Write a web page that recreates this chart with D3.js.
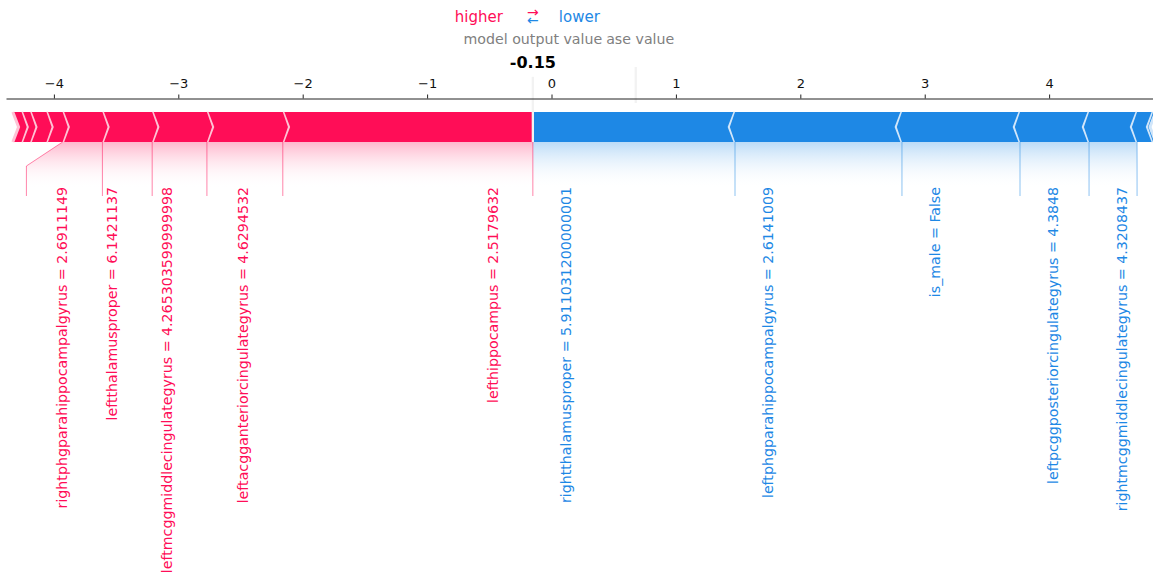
<!DOCTYPE html>
<html lang="en">
<head>
<meta charset="UTF-8">
<title>Force plot</title>
<script src="https://cdn.jsdelivr.net/npm/d3@7/dist/d3.min.js"></script>
<style>
  body { margin: 0; background: #fff; }
  svg { display: block; font-family: "DejaVu Sans", sans-serif; }
</style>
</head>
<body>
<div id="chart"></div>
<script>
// model output for this sample
const outValue = -0.15;

// features pushing the output higher (red), largest first
const posShap = [2.01, 0.61, 0.44, 0.40, 0.32, 0.13, 0.13, 0.07, 0.07];
const posNames = ["lefthippocampus", "leftacgganteriorcingulategyrus", "leftmcggmiddlecingulategyrus", "leftthalamusproper", "rightphgparahippocampalgyrus"];
const posValues = ["2.5179632", "4.6294532", "4.265303599999998", "6.1421137", "2.6911149"];

// features pushing the output lower (blue), largest first
const negShap = [1.625, 1.342, 0.949, 0.555, 0.386, 0.129, 0.021];
const negNames = ["rightthalamusproper", "leftphgparahippocampalgyrus", "is_male", "leftpcggposteriorcingulategyrus", "rightmcggmiddlecingulategyrus"];
const negValues = ["5.911031200000001", "2.6141009", "False", "4.3848", "4.3208437"];

const xTicks = [-4, -3, -2, -1, 0, 1, 2, 3, 4];
const xDomain = [-4.385, 4.835];

const width = 1153, height = 573;
const baseValue = outValue - d3.sum(posShap) + d3.sum(negShap);

const svg = d3.select("#chart").append("svg")
    .attr("width", width)
    .attr("height", height);

const x = d3.scaleLinear().domain(xDomain).range([6, width]);
const y = d3.scaleLinear().domain([0, 0.1]).range([142, 112]); // bar sits between 0 and 0.1
const barW = 0.1;
const sepW = (xDomain[1] - xDomain[0]) / 200;

const posColors = ["#FF0D57", "#FFC3D5"];
const negColors = ["#1E88E5", "#D1E6FA"];
const labelSize = 14.2;

// layers, back to front (like matplotlib zorder)
const defs = svg.append("defs");
const shadeG = svg.append("g");
const barG = svg.append("g");
const lineG = svg.append("g");
const axisG = svg.append("g");
const textG = svg.append("g");

const toPath = pts => d3.line().x(p => x(p[0])).y(p => y(p[1]))(pts) + "Z";

// ---- bars + separators
function drawBars(shaps, type) {
    const pos = type === "pos";
    const colors = pos ? posColors : negColors;
    const ind = pos ? sepW : -sepW;
    let pre = outValue;
    shaps.forEach((s, i) => {
        const next = pos ? pre - s : pre + s;
        const L = pos ? next : pre;
        const R = pos ? pre : next;
        let pts;
        if (i === 0) {
            pts = pos
                ? [[L, 0], [R, 0], [R, barW], [L, barW], [L + ind, barW / 2]]
                : [[R, 0], [L, 0], [L, barW], [R, barW], [R + ind, barW / 2]];
        } else {
            pts = [[L, 0], [R, 0], [R + ind * 0.9, barW / 2], [R, barW], [L, barW], [L + ind * 0.9, barW / 2]];
        }
        barG.append("path").attr("d", toPath(pts)).attr("fill", colors[0]);

        const sp = pos ? L : R;
        const sep = [[sp, 0], [sp + ind, barW / 2], [sp, barW]];
        barG.append("path")
            .attr("d", d3.line().x(p => x(p[0])).y(p => y(p[1]))(sep))
            .attr("fill", "none")
            .attr("stroke", colors[1])
            .attr("stroke-width", 3);
        pre = next;
    });
}

// ---- labels, label lines and shading
function drawLabels(shaps, names, values, type) {
    const pos = type === "pos";
    const col = pos ? posColors[0] : negColors[0];
    let startPx = x(outValue), pre = outValue, boxEnd = x(outValue);

    if (pos) {
        lineG.append("line")
            .attr("x1", x(outValue)).attr("x2", x(outValue))
            .attr("y1", y(0)).attr("y2", y(-0.18))
            .attr("stroke", col).attr("stroke-opacity", 0.5);
    }

    names.forEach((n, i) => {
        const val = pos ? pre - shaps[i] : pre + shaps[i];
        const bx = pos ? startPx - 35 : startPx + 38;
        textG.append("text")
            .attr("transform", `translate(${bx},${y(-0.15)}) rotate(-90)`)
            .attr("text-anchor", "end")
            .attr("fill", col)
            .style("font-size", labelSize + "px")
            .text(n + " = " + values[i]);

        const edge = pos ? bx - 12 : bx + 8;
        const fits = pos ? edge > x(val) : edge < x(val);
        if (fits) {
            lineG.append("line")
                .attr("x1", x(val)).attr("x2", x(val))
                .attr("y1", y(0)).attr("y2", y(-0.18))
                .attr("stroke", col).attr("stroke-opacity", 0.5);
            startPx = x(val);
            boxEnd = x(val);
        } else {
            boxEnd = pos ? edge - 29 : edge + 29;
            lineG.append("polyline")
                .attr("points", [[x(val), y(0)], [boxEnd, y(-0.08)], [boxEnd, y(-0.18)]].join(" "))
                .attr("fill", "none")
                .attr("stroke", col).attr("stroke-opacity", 0.5);
            startPx = boxEnd;
        }
        pre = val;
    });

    // gradient shading under the bars
    const rgb = pos ? "255,13,87" : "30,136,229";
    const grad = defs.append("linearGradient")
        .attr("id", "grad-" + type)
        .attr("gradientUnits", "userSpaceOnUse")
        .attr("x1", 0).attr("x2", 0)
        .attr("y1", y(0)).attr("y2", y(-0.155));
    grad.append("stop").attr("offset", 0).attr("stop-color", `rgb(${rgb})`).attr("stop-opacity", 0.3);
    grad.append("stop").attr("offset", 1).attr("stop-color", "#fff").attr("stop-opacity", 0);

    const shape = [[x(outValue), y(0)], [x(pre), y(0)], [boxEnd, y(-0.08)], [boxEnd, y(-0.2)], [x(outValue), y(-0.2)]];
    shadeG.append("polygon")
        .attr("points", shape.join(" "))
        .attr("fill", `url(#grad-${type})`);
}

drawBars(posShap, "pos");
drawBars(negShap, "neg");
drawLabels(posShap, posNames, posValues, "pos");
drawLabels(negShap, negNames, negValues, "neg");

// output value and base value markers
lineG.append("line")
    .attr("x1", x(outValue)).attr("x2", x(outValue))
    .attr("y1", y(0)).attr("y2", y(0.24))
    .attr("stroke", "#F2F2F2").attr("stroke-width", 2.3);
lineG.append("line")
    .attr("x1", x(baseValue)).attr("x2", x(baseValue))
    .attr("y1", y(0.13)).attr("y2", y(0.25))
    .attr("stroke", "#F2F2F2").attr("stroke-width", 2.3);

// axis on top
const axis = d3.axisTop(x)
    .tickValues(xTicks)
    .tickSize(4)
    .tickPadding(7)
    .tickSizeOuter(0);
axisG.attr("transform", "translate(0,98.5)").call(axis);
axisG.select(".domain").attr("stroke", "#222").attr("stroke-width", 1);
axisG.selectAll(".tick line").attr("stroke", "#222");
axisG.selectAll(".tick text")
    .attr("fill", "#111")
    .style("font-size", "13px")
    .style("font-family", "DejaVu Sans");

// text with white box behind, like matplotlib bbox
function boxedText(xp, yp, str, size, weight, fill, pad) {
    const g = textG.append("g");
    const r = g.append("rect").attr("fill", "#fff");
    const t = g.append("text")
        .attr("x", xp).attr("y", yp)
        .attr("text-anchor", "middle")
        .attr("fill", fill)
        .style("font-size", size + "px")
        .style("font-weight", weight)
        .text(str);
    const w = t.node().getComputedTextLength();
    r.attr("x", xp - w / 2 - pad).attr("width", w + 2 * pad)
        .attr("y", yp - size * 0.76 - pad).attr("height", size * 1.0 + 2 * pad);
    return g;
}

boxedText(x(baseValue), 44, "base value", labelSize, "normal", "#808080", 4);
boxedText(x(outValue), 44, "model output value", labelSize, "normal", "#808080", 4);
boxedText(x(outValue), 68, outValue.toFixed(2), 16, "bold", "#000", 5);

// higher / lower legend
textG.append("text")
    .attr("x", x(outValue) - 30).attr("y", 22)
    .attr("text-anchor", "end")
    .attr("fill", posColors[0])
    .style("font-size", "15px")
    .text("higher");
textG.append("text")
    .attr("x", x(outValue) + 26).attr("y", 22)
    .attr("fill", negColors[0])
    .style("font-size", "15px")
    .text("lower");
textG.append("text")
    .attr("x", x(outValue)).attr("y", 17)
    .attr("text-anchor", "middle")
    .attr("fill", posColors[0])
    .style("font-size", "14px")
    .text("\u2192");
textG.append("text")
    .attr("x", x(outValue)).attr("y", 25)
    .attr("text-anchor", "middle")
    .attr("fill", negColors[0])
    .style("font-size", "14px")
    .text("\u2190");
</script>
</body>
</html>
